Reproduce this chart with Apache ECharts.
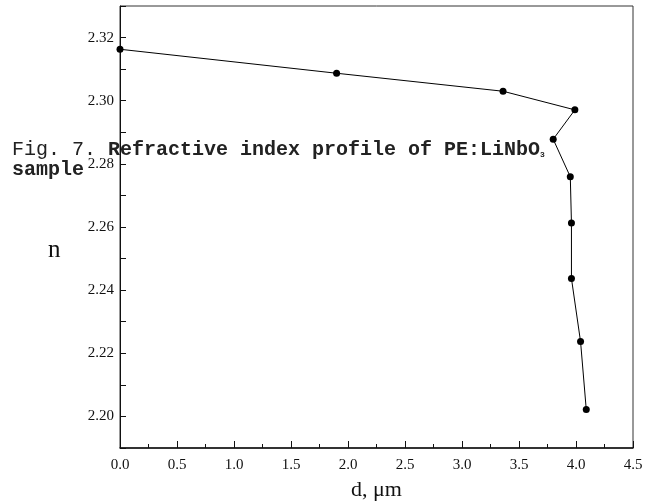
<!DOCTYPE html>
<html><head><meta charset="utf-8">
<script src="https://cdn.jsdelivr.net/npm/echarts@6/dist/echarts.min.js"></script>
<style>html,body{margin:0;padding:0;background:#fff}#c{width:654px;height:503px}</style>
</head><body><div id="c"></div>
<script>
var depth = [0.0, 1.90, 3.36, 3.99, 3.80, 3.95, 3.96, 3.96, 4.04, 4.09];
var nIndex = [2.3163, 2.3087, 2.3030, 2.2971, 2.2878, 2.2759, 2.2613, 2.2437, 2.2237, 2.2022];
var xTicks = ['0.0','0.5','1.0','1.5','2.0','2.5','3.0','3.5','4.0','4.5'];
var yTicks = ['2.20','2.22','2.24','2.26','2.28','2.30','2.32'];
var points = depth.map(function(d,i){return [d, nIndex[i]];});
var chart = echarts.init(document.getElementById('c'));
var serif = '"Liberation Serif", "Times New Roman", serif';
var mono = '"Liberation Mono", "Courier New", monospace';
chart.setOption({
  animation:false,
  backgroundColor:'#fff',
  title:{
    left:7, top:135, z:10,
    text:'{n|Fig. 7. }{b|Refractive index profile of PE:LiNbO}{s|3}\n{b|sample}',
    textStyle:{
      rich:{
        n:{fontFamily:mono, fontSize:20, fontWeight:'normal', color:'#222', lineHeight:20},
        b:{fontFamily:mono, fontSize:20, fontWeight:'bold', color:'#222', lineHeight:20},
        s:{fontFamily:mono, fontSize:8, fontWeight:'bold', color:'#222', lineHeight:20, padding:[10,0,0,0]}
      }
    }
  },
  graphic:[{
    type:'text', left:48, top:238,
    style:{text:'n', font:'25px "Liberation Serif", serif', fill:'#111'}
  }],
  grid:{left:120, right:21, top:6, bottom:55, containLabel:false, outerBoundsMode:'none',
    show:true, borderColor:'#333', borderWidth:1},
  xAxis:{
    type:'value', min:0, max:4.5, interval:0.5,
    name:'d, μm', nameLocation:'middle', nameGap:31,
    nameTextStyle:{fontFamily:serif, fontSize:22, color:'#111'},
    axisLine:{lineStyle:{color:'#111', width:1.5}},
    axisTick:{inside:true, length:7, lineStyle:{color:'#111'}},
    minorTick:{show:true, splitNumber:2, length:4, lineStyle:{color:'#111'}},
    splitLine:{show:false},
    axisLabel:{fontFamily:serif, fontSize:15, color:'#111', margin:10,
      formatter:function(v){var i=Math.round(v/0.5);return xTicks[i]||'';}}
  },
  yAxis:{
    type:'value', min:2.19, max:2.33, interval:0.01,
    axisLine:{lineStyle:{color:'#111', width:1}},
    axisTick:{inside:true, length:6, lineStyle:{color:'#111'}},
    splitLine:{show:false},
    axisLabel:{fontFamily:serif, fontSize:15, color:'#111', margin:6,
      formatter:function(v){var k=Math.round((v-2.20)*100);if(k<0||k%2)return '';return yTicks[k/2]||'';}}
  },
  series:[{
    type:'line', data:points, symbol:'circle', symbolSize:7,
    itemStyle:{color:'#000'}, lineStyle:{color:'#000', width:1}, z:3
  }]
});
</script></body></html>
